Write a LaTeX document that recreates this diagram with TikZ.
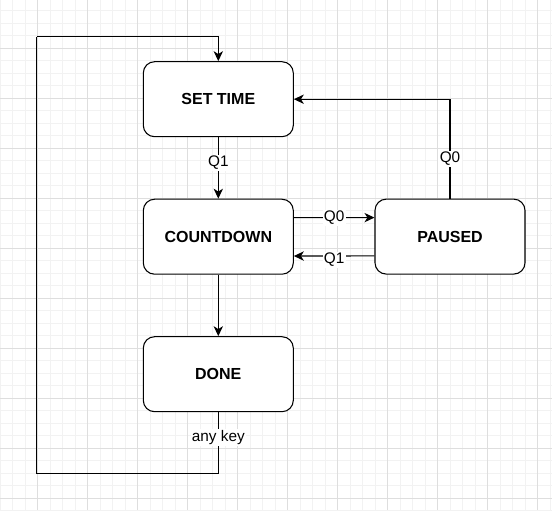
\documentclass[tikz,border=0pt]{standalone}
\usepackage{fontspec}
\setmainfont{Liberation Sans}
\usetikzlibrary{arrows.meta}
\begin{document}
\begin{tikzpicture}[x=0.75pt,y=-0.75pt,
  state/.style={draw=black, line width=0.8pt, rounded corners=8.5pt, fill=white,
    minimum width=112.5pt, minimum height=56.25pt, inner sep=0pt,
    font=\fontsize{12pt}{14pt}\selectfont\bfseries},
  edge/.style={draw=black, line width=0.8pt, -{Stealth[length=7.5pt,width=7pt,inset=2.2pt]}},
  plain/.style={draw=black, line width=0.8pt},
  lbl/.style={fill=white, inner sep=1pt, font=\fontsize{11.5pt}{13pt}\selectfont},
  minorgrid/.style={draw={rgb,255:red,242;green,242;blue,242}, line width=0.75pt},
  majorgrid/.style={draw={rgb,255:red,222;green,222;blue,222}, line width=0.75pt}]
\useasboundingbox (0,0) rectangle (552,510);
\begin{scope}
\clip (0,0) rectangle (552,510);
\fill[white] (0,0) rectangle (552,510);
\foreach \i in {0,...,44} \draw[minorgrid] ({\i*12.5},0) -- ({\i*12.5},510);
\foreach \i in {0,...,40} \draw[minorgrid] (0,{10.8+\i*12.5}) -- (552,{10.8+\i*12.5});
\foreach \i in {0,...,10} \draw[majorgrid] ({37.5+\i*50},0) -- ({37.5+\i*50},510);
\foreach \i in {0,...,9} \draw[majorgrid] (0,{48.3+\i*50}) -- (552,{48.3+\i*50});
\end{scope}

\node[state] (set) at (218.3,99.2) {SET TIME};
\node[state] (cd) at (218.3,236.7) {COUNTDOWN};
\node[state] (paused) at (450,236.6) {PAUSED};
\node[state] (done) at (218.3,374.2) {DONE};

\coordinate (c1) at (218.3,473.3);
\coordinate (c2) at (36.7,473.3);
\coordinate (c3) at (36.7,36.7);

\draw[edge] (set.south) -- node[lbl,pos=0.42]{Q1} (cd.north);
\draw[edge] (cd.south) -- (done.north);
\draw[edge] ([yshift=14.25pt]cd.east) -- node[lbl]{Q0} ([yshift=14.25pt]paused.west);
\draw[edge] ([yshift=-14.5pt]paused.west) -- node[lbl,yshift=-3pt]{Q1} ([yshift=-14.5pt]cd.east);
\draw[edge] (paused.north) |- node[lbl,pos=0.2]{Q0} (set.east);
\draw[plain] (done.south) -- node[lbl,pos=0.41]{any key} (c1) -- (c2) -- (c3);
\draw[edge] (c3) -| (set.north);
\end{tikzpicture}
\end{document}
